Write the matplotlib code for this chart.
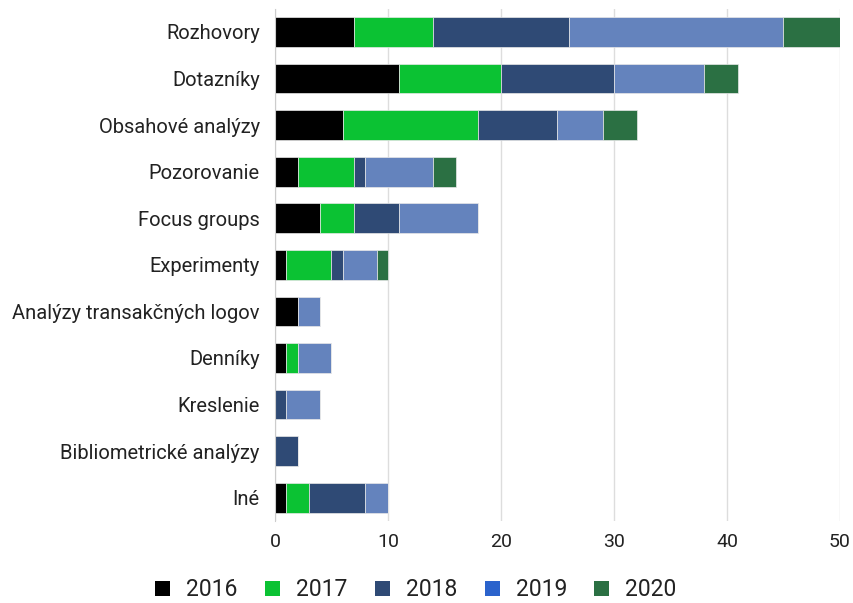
import matplotlib
matplotlib.use("Agg")
import matplotlib.pyplot as plt
from matplotlib.patches import Patch

plt.rcParams['font.family'] = ['Roboto', 'DejaVu Sans']

categories = ["Rozhovory", "Dotazníky", "Obsahové analýzy", "Pozorovanie", "Focus groups",
              "Experimenty", "Analýzy transakčných logov", "Denníky", "Kreslenie",
              "Bibliometrické analýzy", "Iné"]
years = ["2016", "2017", "2018", "2019", "2020"]
v2016 = [7, 11, 6, 2, 4, 1, 2, 1, 0, 0, 1]
v2017 = [7, 9, 12, 5, 3, 4, 0, 1, 0, 0, 2]
v2018 = [12, 10, 7, 1, 4, 1, 0, 0, 1, 2, 5]
v2019 = [19, 8, 4, 6, 7, 3, 2, 3, 3, 0, 2]
v2020 = [5, 3, 3, 2, 0, 1, 0, 0, 0, 0, 0]
series = [v2016, v2017, v2018, v2019, v2020]

bar_colors = ["#000000", "#0bc233", "#2f4a75", "#6483bd", "#2b7043"]
legend_colors = ["#000000", "#0bc233", "#2f4a75", "#2b63cc", "#2b7043"]

fig = plt.figure(figsize=(8.54, 6.03), dpi=100)
ax = fig.add_axes([0.322, 0.136, 0.6616, 0.8496])

y = list(range(len(categories)))
left = [0] * len(categories)
for vals, c in zip(series, bar_colors):
    ax.barh(y, vals, left=left, height=0.64, color=c, edgecolor="#e8e8e8", linewidth=0.5, zorder=3)
    left = [l + v for l, v in zip(left, vals)]

ax.set_ylim(len(categories) - 0.5, -0.5)
ax.set_xlim(0, 50)
ax.set_xticks([0, 10, 20, 30, 40, 50])
ax.set_yticks(y)
ax.set_yticklabels(categories)
ax.tick_params(axis='x', length=0, labelsize=14, labelcolor="#222222", pad=9)
ax.tick_params(axis='y', length=0, labelsize=14.5, labelcolor="#222222", pad=11)
ax.grid(axis='x', color="#dddddd", linewidth=1, zorder=0)
for s in ["top", "right", "bottom"]:
    ax.spines[s].set_visible(False)
ax.spines["left"].set_color("#cccccc")
ax.spines["left"].set_zorder(4)

handles = [Patch(facecolor=c, label=yr) for c, yr in zip(legend_colors, years)]
fig.legend(handles=handles, loc="center", bbox_to_anchor=(0.487, 0.022), ncol=5, frameon=False,
           fontsize=16.5, handlelength=0.65, handleheight=0.65, handletextpad=0.7, columnspacing=1.2,
           labelcolor="#222222", borderpad=0.1)

fig.savefig("out.png", dpi=100)
